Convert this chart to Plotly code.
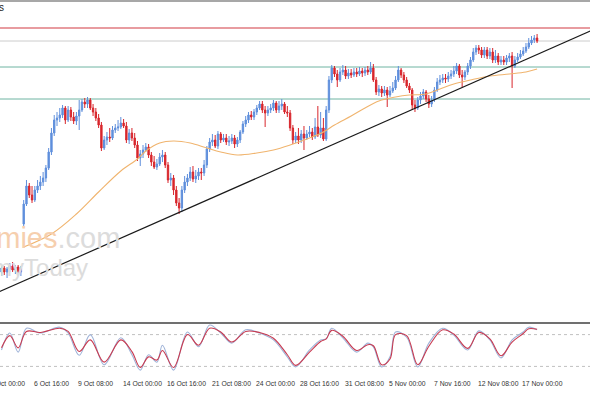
import plotly.graph_objects as go

# ---------------- data ----------------
bar_index = list(range(194))

opens = [1.1548,1.1552,1.1548,1.1551,1.1554,1.1550,1.1553,1.1548,1.1596,1.1616,
1.1634,1.1625,1.1620,1.1630,1.1634,1.1638,1.1642,1.1652,1.1668,1.1687,
1.1700,1.1702,1.1705,1.1712,1.1700,1.1710,1.1703,1.1699,1.1704,1.1710,
1.1718,1.1716,1.1720,1.1712,1.1708,1.1702,1.1695,1.1672,1.1680,1.1683,
1.1682,1.1690,1.1692,1.1693,1.1697,1.1694,1.1680,1.1687,1.1682,1.1675,
1.1662,1.1666,1.1670,1.1673,1.1665,1.1658,1.1653,1.1656,1.1663,1.1665,
1.1655,1.1640,1.1642,1.1630,1.1617,1.1612,1.1630,1.1638,1.1642,1.1648,
1.1641,1.1644,1.1648,1.1647,1.1655,1.1671,1.1678,1.1680,1.1674,1.1686,
1.1680,1.1682,1.1678,1.1679,1.1682,1.1676,1.1680,1.1688,1.1696,1.1700,
1.1705,1.1703,1.1708,1.1712,1.1716,1.1710,1.1707,1.1710,1.1712,1.1717,
1.1710,1.1714,1.1716,1.1708,1.1707,1.1692,1.1680,1.1684,1.1680,1.1686,
1.1682,1.1686,1.1688,1.1683,1.1693,1.1685,1.1692,1.1681,1.1710,1.1740,
1.1752,1.1746,1.1740,1.1748,1.1750,1.1744,1.1747,1.1745,1.1748,1.1746,
1.1749,1.1747,1.1750,1.1748,1.1752,1.1740,1.1728,1.1731,1.1727,1.1730,
1.1725,1.1729,1.1732,1.1740,1.1750,1.1745,1.1740,1.1734,1.1730,1.1715,
1.1712,1.1720,1.1724,1.1728,1.1721,1.1716,1.1720,1.1730,1.1738,1.1740,
1.1742,1.1741,1.1744,1.1746,1.1749,1.1754,1.1745,1.1743,1.1748,1.1754,
1.1760,1.1768,1.1772,1.1770,1.1765,1.1770,1.1764,1.1768,1.1760,1.1764,
1.1758,1.1760,1.1758,1.1762,1.1764,1.1754,1.1760,1.1763,1.1766,1.1769,
1.1773,1.1777,1.1780,1.1782]

closes = [1.1552,1.1548,1.1551,1.1554,1.1550,1.1553,1.1548,1.1552,1.1616,1.1634,
1.1625,1.1620,1.1630,1.1634,1.1638,1.1642,1.1652,1.1668,1.1687,1.1700,
1.1702,1.1705,1.1712,1.1700,1.1710,1.1703,1.1699,1.1704,1.1710,1.1718,
1.1716,1.1720,1.1712,1.1708,1.1702,1.1695,1.1672,1.1680,1.1683,1.1682,
1.1690,1.1692,1.1693,1.1697,1.1694,1.1680,1.1687,1.1682,1.1675,1.1662,
1.1666,1.1670,1.1673,1.1665,1.1658,1.1653,1.1656,1.1663,1.1665,1.1655,
1.1640,1.1642,1.1630,1.1617,1.1612,1.1630,1.1638,1.1642,1.1648,1.1641,
1.1644,1.1648,1.1647,1.1655,1.1671,1.1678,1.1680,1.1674,1.1686,1.1680,
1.1682,1.1678,1.1679,1.1682,1.1676,1.1680,1.1688,1.1696,1.1700,1.1705,
1.1703,1.1708,1.1712,1.1716,1.1710,1.1707,1.1710,1.1712,1.1717,1.1710,
1.1714,1.1716,1.1708,1.1707,1.1692,1.1680,1.1684,1.1680,1.1686,1.1682,
1.1686,1.1688,1.1683,1.1693,1.1685,1.1692,1.1681,1.1710,1.1740,1.1752,
1.1746,1.1740,1.1748,1.1750,1.1744,1.1747,1.1745,1.1748,1.1746,1.1749,
1.1747,1.1750,1.1748,1.1752,1.1740,1.1728,1.1731,1.1727,1.1730,1.1725,
1.1729,1.1732,1.1740,1.1750,1.1745,1.1740,1.1734,1.1730,1.1715,1.1712,
1.1720,1.1724,1.1728,1.1721,1.1716,1.1720,1.1730,1.1738,1.1740,1.1742,
1.1741,1.1744,1.1746,1.1749,1.1754,1.1745,1.1743,1.1748,1.1754,1.1760,
1.1768,1.1772,1.1770,1.1765,1.1770,1.1764,1.1768,1.1760,1.1764,1.1758,
1.1760,1.1758,1.1762,1.1764,1.1754,1.1760,1.1763,1.1766,1.1769,1.1773,
1.1777,1.1780,1.1782,1.1779]

highs = [1.1555,1.1554,1.1553,1.1557,1.1558,1.1555,1.1555,1.1554,1.1620,1.1640,
1.1637,1.1634,1.1634,1.1640,1.1644,1.1648,1.1655,1.1672,1.1692,1.1705,
1.1708,1.1712,1.1715,1.1714,1.1714,1.1713,1.1708,1.1708,1.1720,1.1721,
1.1722,1.1723,1.1722,1.1716,1.1712,1.1706,1.1698,1.1684,1.1688,1.1692,
1.1694,1.1696,1.1700,1.1703,1.1701,1.1698,1.1691,1.1692,1.1687,1.1679,
1.1670,1.1675,1.1677,1.1676,1.1668,1.1664,1.1661,1.1667,1.1670,1.1668,
1.1658,1.1647,1.1645,1.1634,1.1622,1.1634,1.1644,1.1646,1.1653,1.1654,
1.1650,1.1652,1.1652,1.1660,1.1674,1.1682,1.1686,1.1685,1.1689,1.1688,
1.1686,1.1686,1.1684,1.1686,1.1685,1.1683,1.1690,1.1699,1.1704,1.1708,
1.1709,1.1711,1.1715,1.1719,1.1719,1.1714,1.1714,1.1716,1.1720,1.1719,
1.1719,1.1721,1.1718,1.1714,1.1710,1.1695,1.1688,1.1692,1.1690,1.1694,
1.1690,1.1694,1.1692,1.1702,1.1714,1.1708,1.1702,1.1714,1.1744,1.1755,
1.1754,1.1750,1.1752,1.1755,1.1754,1.1751,1.1751,1.1752,1.1752,1.1753,
1.1752,1.1753,1.1754,1.1758,1.1756,1.1743,1.1735,1.1734,1.1734,1.1733,
1.1734,1.1738,1.1744,1.1754,1.1752,1.1748,1.1743,1.1737,1.1732,1.1720,
1.1723,1.1728,1.1731,1.1730,1.1725,1.1724,1.1733,1.1742,1.1745,1.1746,
1.1746,1.1748,1.1750,1.1754,1.1757,1.1756,1.1750,1.1750,1.1757,1.1763,
1.1772,1.1775,1.1775,1.1773,1.1773,1.1773,1.1772,1.1772,1.1770,1.1767,
1.1764,1.1764,1.1765,1.1767,1.1768,1.1764,1.1767,1.1770,1.1773,1.1777,
1.1782,1.1784,1.1785,1.1786]

lows = [1.1544,1.1545,1.1542,1.1548,1.1548,1.1546,1.1545,1.1544,1.1594,1.1614,
1.1622,1.1617,1.1618,1.1627,1.1630,1.1634,1.1638,1.1650,1.1665,1.1684,
1.1694,1.1698,1.1702,1.1696,1.1698,1.1699,1.1696,1.1695,1.1690,1.1708,
1.1712,1.1712,1.1710,1.1704,1.1699,1.1692,1.1669,1.1670,1.1675,1.1678,
1.1680,1.1687,1.1689,1.1691,1.1692,1.1677,1.1676,1.1679,1.1672,1.1659,
1.1654,1.1662,1.1668,1.1662,1.1654,1.1651,1.1650,1.1654,1.1658,1.1652,
1.1637,1.1634,1.1625,1.1614,1.1606,1.1608,1.1627,1.1634,1.1639,1.1638,
1.1637,1.1640,1.1640,1.1644,1.1652,1.1668,1.1674,1.1672,1.1671,1.1677,
1.1678,1.1675,1.1674,1.1676,1.1672,1.1673,1.1677,1.1686,1.1693,1.1697,
1.1700,1.1700,1.1705,1.1710,1.1707,1.1693,1.1704,1.1707,1.1709,1.1707,
1.1707,1.1710,1.1706,1.1703,1.1689,1.1676,1.1677,1.1676,1.1677,1.1670,
1.1680,1.1683,1.1680,1.1681,1.1683,1.1682,1.1679,1.1679,1.1707,1.1737,
1.1743,1.1733,1.1738,1.1745,1.1741,1.1741,1.1742,1.1743,1.1743,1.1744,
1.1743,1.1744,1.1745,1.1746,1.1738,1.1725,1.1724,1.1723,1.1724,1.1713,
1.1723,1.1727,1.1730,1.1738,1.1742,1.1737,1.1732,1.1727,1.1710,1.1708,
1.1710,1.1716,1.1721,1.1718,1.1712,1.1713,1.1718,1.1728,1.1735,1.1737,
1.1737,1.1738,1.1741,1.1743,1.1746,1.1742,1.1733,1.1740,1.1745,1.1751,
1.1758,1.1765,1.1766,1.1762,1.1762,1.1761,1.1761,1.1757,1.1757,1.1755,
1.1755,1.1755,1.1755,1.1758,1.1732,1.1752,1.1758,1.1761,1.1764,1.1767,
1.1771,1.1775,1.1777,1.1777]

ma_index = [8,18,27,35,43,49,52,57,62,68,74,79,85,92,98,104,111,116,120,126,
            131,136,142,147,153,158,163,169,176,183,189,193]
ma_values = [1.1573,1.1586,1.1606,1.1628,1.1649,1.1661,1.1669,1.1677,1.1679,1.1677,
             1.1672,1.1668,1.1665,1.1667,1.1670,1.1675,1.1682,1.1688,1.1695,1.1704,
             1.1712,1.1719,1.1723,1.1725,1.1726,1.1731,1.1736,1.1740,1.1744,1.1746,
             1.1748,1.1751]

level_prices = [1.1792, 1.1779, 1.1753, 1.1721]
level_colors = ["#e07b80", "#cccccc", "#6fb4a2", "#6fb4a2"]
level_widths = [1.6, 1.0, 1.0, 1.0]

trend_index = [-1, 213]
trend_prices = [1.1528, 1.1790]

stoch_index = [0,3,6,9,14,21,24,28,32,37,43,47,50,53,56,58,62,67,71,75,79,83,88,93,
               98,103,106,111,115,117,119,123,128,132,134,137,140,142,146,150,154,
               159,163,168,172,176,180,184,188,190,193]
stoch_k = [51,83,47,92,83,94,83,41,80,23,74,42,13,42,28,60,13,85,57,98,83,64,89,83,
           70,38,19,51,70,72,92,74,47,64,57,19,38,85,75,19,64,92,79,51,87,70,36,70,
           85,94,89]
stoch_d = [55,78,55,86,84,92,86,48,70,28,70,48,18,38,32,50,18,80,60,92,85,66,86,84,
           73,42,22,47,67,72,88,77,50,61,59,23,34,80,78,23,58,89,81,54,84,72,40,66,
           82,91,90]
stoch_levels = [20, 80]

tick_index = [-5, 11, 27, 43, 59, 75, 91, 107, 123, 139, 155, 171, 187]
tick_labels = ["2 Oct 00:00", "6 Oct 16:00", "9 Oct 08:00", "14 Oct 00:00",
               "16 Oct 16:00", "21 Oct 08:00", "24 Oct 00:00", "28 Oct 16:00",
               "31 Oct 08:00", "5 Nov 00:00", "7 Nov 16:00", "12 Nov 08:00",
               "17 Nov 00:00"]

# ---------------- figure ----------------
BLUE = "#5f8fdc"
RED = "#d8262c"
X_RANGE = [-0.54, 212.07]
PX_PER_BAR = 590.0 / (X_RANGE[1] - X_RANGE[0])

fig = go.Figure()

fig.add_trace(go.Candlestick(
    x=bar_index, open=opens, high=highs, low=lows, close=closes,
    increasing=dict(line=dict(color=BLUE, width=1), fillcolor=BLUE),
    decreasing=dict(line=dict(color=RED, width=1), fillcolor=RED),
    whiskerwidth=0, showlegend=False, hoverinfo="skip",
    xaxis="x", yaxis="y"))

fig.add_trace(go.Scatter(
    x=ma_index, y=ma_values, mode="lines", line=dict(color="#f0b46e", width=1.1, shape="spline"),
    showlegend=False, hoverinfo="skip", xaxis="x", yaxis="y"))

fig.add_trace(go.Scatter(
    x=trend_index, y=trend_prices, mode="lines", line=dict(color="#1a1a1a", width=1.2),
    showlegend=False, hoverinfo="skip", xaxis="x", yaxis="y"))

fig.add_trace(go.Scatter(
    x=stoch_index, y=stoch_k, mode="lines", line=dict(color="#9fb3d8", width=1.1, shape="spline"),
    showlegend=False, hoverinfo="skip", xaxis="x", yaxis="y2"))
fig.add_trace(go.Scatter(
    x=stoch_index, y=stoch_d, mode="lines", line=dict(color="#c83a50", width=1.1, shape="spline"),
    showlegend=False, hoverinfo="skip", xaxis="x", yaxis="y2"))

shapes = []
for p, c, w in zip(level_prices, level_colors, level_widths):
    shapes.append(dict(type="line", xref="paper", x0=0, x1=1, yref="y", y0=p, y1=p,
                       line=dict(color=c, width=w), layer="below"))
for lv in stoch_levels:
    shapes.append(dict(type="line", xref="paper", x0=0, x1=1, yref="y2", y0=lv, y1=lv,
                       line=dict(color="#c0c0c0", width=1, dash="dot"), layer="below"))
# frames
shapes.append(dict(type="line", xref="paper", yref="paper", x0=0, x1=1, y0=1 - 1.0 / 393, y1=1 - 1.0 / 393,
                   line=dict(color="#8a8a8a", width=1.5)))
shapes.append(dict(type="line", xref="paper", yref="paper", x0=0, x1=1, y0=1 - 323.0 / 393, y1=1 - 323.0 / 393,
                   line=dict(color="#707070", width=2)))

annotations = []
for ti, tl in zip(tick_index, tick_labels):
    ax = max(ti, X_RANGE[0])
    shift = (ti - ax) * PX_PER_BAR
    annotations.append(dict(x=ax, xref="x", y=1 - 383.0 / 393, yref="paper", text=tl,
                            xshift=shift, showarrow=False, xanchor="left", yanchor="middle",
                            font=dict(family="Liberation Sans", size=6.8, color="#333333")))
annotations.append(dict(x=0, xref="paper", y=1 - 8.0 / 393, yref="paper", text="s", xshift=-3,
                        showarrow=False, xanchor="left", yanchor="middle",
                        font=dict(family="Liberation Sans", size=10, color="#222222")))
# watermark
annotations.append(dict(x=122.0 / 590, xref="paper", y=1 - 238.0 / 393, yref="paper",
                        text="<span style='color:#f6cfae'>Economies</span><span style='color:#dcdcdc'>.com</span>",
                        showarrow=False, xanchor="right", yanchor="middle",
                        font=dict(family="Liberation Sans", size=29)))
annotations.append(dict(x=90.0 / 590, xref="paper", y=1 - 267.0 / 393, yref="paper",
                        text="<span style='color:#dcdcdc'>EconomyToday</span>",
                        showarrow=False, xanchor="right", yanchor="middle",
                        font=dict(family="Liberation Sans", size=24)))

fig.update_layout(
    width=590, height=393, margin=dict(l=0, r=0, t=0, b=0),
    paper_bgcolor="white", plot_bgcolor="white",
    xaxis=dict(range=X_RANGE, showgrid=False, zeroline=False, showticklabels=False,
               rangeslider=dict(visible=False), anchor="y2", fixedrange=True),
    yaxis=dict(domain=[1 - 321.0 / 393, 1 - 2.0 / 393], range=[1.1499, 1.1818],
               showgrid=False, zeroline=False, showticklabels=False),
    yaxis2=dict(domain=[1 - 377.0 / 393, 1 - 324.0 / 393], range=[0, 100],
                showgrid=False, zeroline=False, showticklabels=False),
    shapes=shapes, annotations=annotations, showlegend=False,
)

fig.write_html("out.html")
